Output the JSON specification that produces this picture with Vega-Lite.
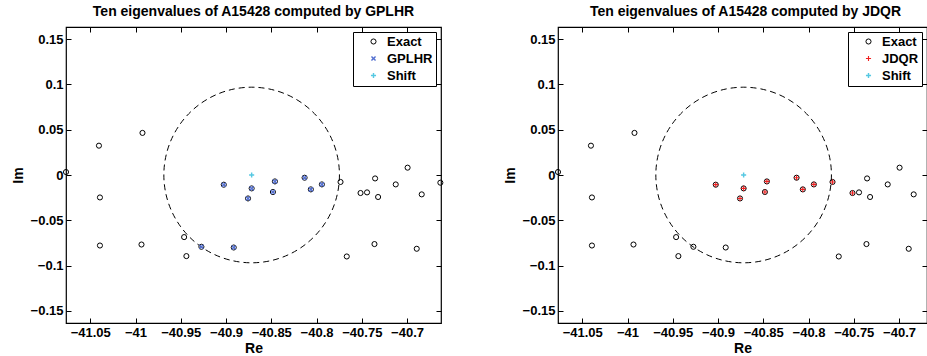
{
  "$schema": "https://vega.github.io/schema/vega-lite/v6.json",
  "background": "white",
  "padding": {"left": 10, "top": 3, "right": 0, "bottom": 0},
  "spacing": 117,
  "bounds": "flush",
  "config": {
    "font": "Liberation Sans",
    "view": {"stroke": "#000", "strokeWidth": 1.2},
    "axis": {
      "grid": false, "domain": false, "tickColor": "#000", "tickSize": -5, "tickWidth": 1,
      "labelFont": "Liberation Sans", "labelFontSize": 13, "labelFontWeight": "bold", "labelColor": "#000",
      "labelOverlap": false, "labelFlush": false,
      "titleFont": "Liberation Sans", "titleFontSize": 14, "titleFontWeight": "bold", "titleColor": "#000"
    },
    "title": {"font": "Liberation Sans", "fontSize": 14, "fontWeight": "bold", "color": "#000", "baseline": "alphabetic", "offset": 8},
    "legend": {
      "orient": "top-right", "offset": 5, "strokeColor": "#000", "fillColor": "#fff", "padding": 3,
      "labelFont": "Liberation Sans", "labelFontSize": 13, "labelFontWeight": "bold", "labelColor": "#000", "labelAlign": "left",
      "rowPadding": 3, "symbolSize": 26, "symbolOffset": 11, "labelOffset": 7, "symbolStrokeWidth": 1
    }
  },
  "datasets": {
    "exact": [
      {"re": -41.0404, "im": 0.0324, "series": "Exact"},
      {"re": -40.9923, "im": 0.0465, "series": "Exact"},
      {"re": -41.0768, "im": 0.0033, "series": "Exact"},
      {"re": -41.0393, "im": -0.0248, "series": "Exact"},
      {"re": -41.0393, "im": -0.0779, "series": "Exact"},
      {"re": -40.9934, "im": -0.0768, "series": "Exact"},
      {"re": -40.9463, "im": -0.0686, "series": "Exact"},
      {"re": -40.9438, "im": -0.0896, "series": "Exact"},
      {"re": -40.9025, "im": -0.0107, "series": "Exact"},
      {"re": -40.8717, "im": -0.0148, "series": "Exact"},
      {"re": -40.8757, "im": -0.0259, "series": "Exact"},
      {"re": -40.8460, "im": -0.0071, "series": "Exact"},
      {"re": -40.8482, "im": -0.0188, "series": "Exact"},
      {"re": -40.8132, "im": -0.0030, "series": "Exact"},
      {"re": -40.8063, "im": -0.0159, "series": "Exact"},
      {"re": -40.7941, "im": -0.0104, "series": "Exact"},
      {"re": -40.9272, "im": -0.0793, "series": "Exact"},
      {"re": -40.8915, "im": -0.0801, "series": "Exact"},
      {"re": -40.7735, "im": -0.0077, "series": "Exact"},
      {"re": -40.7353, "im": -0.0038, "series": "Exact"},
      {"re": -40.6994, "im": 0.0081, "series": "Exact"},
      {"re": -40.7125, "im": -0.0104, "series": "Exact"},
      {"re": -40.7514, "im": -0.0199, "series": "Exact"},
      {"re": -40.7442, "im": -0.0192, "series": "Exact"},
      {"re": -40.7320, "im": -0.0243, "series": "Exact"},
      {"re": -40.6838, "im": -0.0214, "series": "Exact"},
      {"re": -40.6632, "im": -0.0085, "series": "Exact"},
      {"re": -40.7360, "im": -0.0763, "series": "Exact"},
      {"re": -40.7666, "im": -0.0900, "series": "Exact"},
      {"re": -40.6893, "im": -0.0815, "series": "Exact"}
    ],
    "gplhr": [
      {"re": -40.9025, "im": -0.0107, "series": "GPLHR"},
      {"re": -40.8717, "im": -0.0148, "series": "GPLHR"},
      {"re": -40.8757, "im": -0.0259, "series": "GPLHR"},
      {"re": -40.8460, "im": -0.0071, "series": "GPLHR"},
      {"re": -40.8482, "im": -0.0188, "series": "GPLHR"},
      {"re": -40.8132, "im": -0.0030, "series": "GPLHR"},
      {"re": -40.8063, "im": -0.0159, "series": "GPLHR"},
      {"re": -40.7941, "im": -0.0104, "series": "GPLHR"},
      {"re": -40.9272, "im": -0.0793, "series": "GPLHR"},
      {"re": -40.8915, "im": -0.0801, "series": "GPLHR"}
    ],
    "jdqr": [
      {"re": -40.9025, "im": -0.0107, "series": "JDQR"},
      {"re": -40.8717, "im": -0.0148, "series": "JDQR"},
      {"re": -40.8757, "im": -0.0259, "series": "JDQR"},
      {"re": -40.8460, "im": -0.0071, "series": "JDQR"},
      {"re": -40.8482, "im": -0.0188, "series": "JDQR"},
      {"re": -40.8132, "im": -0.0030, "series": "JDQR"},
      {"re": -40.8063, "im": -0.0159, "series": "JDQR"},
      {"re": -40.7941, "im": -0.0104, "series": "JDQR"},
      {"re": -40.7735, "im": -0.0077, "series": "JDQR"},
      {"re": -40.7514, "im": -0.0199, "series": "JDQR"}
    ],
    "shift": [
      {"re": -40.8717, "im": 0.0, "series": "Shift"}
    ]
  },
  "resolve": {
    "scale": {"x": "independent", "y": "independent", "shape": "independent", "fill": "independent", "stroke": "independent"},
    "legend": {"shape": "independent", "fill": "independent", "stroke": "independent"}
  },
  "hconcat": [
    {
      "width": 375, "height": 296,
      "title": {"text": "Ten eigenvalues of A15428 computed by GPLHR"},
      "resolve": {"axis": {"x": "independent", "y": "independent"}},
      "layer": [
        {
          "data": {"name": "shift"},
          "mark": {"type": "point", "shape": "circle", "size": 30835, "filled": false, "stroke": "#000", "strokeWidth": 1, "strokeDash": [6, 4], "opacity": 1},
          "encoding": {
            "x": {"field": "re", "type": "quantitative", "scale": {"domain": [-41.0768, -40.6625], "nice": false, "zero": false},
                  "axis": {"orient": "bottom", "values": [-41.05, -41, -40.95, -40.9, -40.85, -40.8, -40.75, -40.7], "format": ".2~f", "title": "Re", "labelPadding": 8, "titlePadding": 2}},
            "y": {"field": "im", "type": "quantitative", "scale": {"domain": [-0.1635, 0.1635], "nice": false, "zero": false},
                  "axis": {"orient": "left", "values": [-0.15, -0.1, -0.05, 0, 0.05, 0.1, 0.15], "format": ".2~f", "title": "Im", "labelPadding": 8, "titlePadding": 5}}
          }
        },
        {
          "data": {"name": "exact"},
          "mark": {"type": "point", "filled": true, "size": 26, "strokeWidth": 1, "opacity": 1},
          "encoding": {
            "x": {"field": "re", "type": "quantitative", "axis": {"orient": "top", "labels": false, "title": null, "values": [-41.05, -41, -40.95, -40.9, -40.85, -40.8, -40.75, -40.7]}},
            "y": {"field": "im", "type": "quantitative", "axis": {"orient": "right", "labels": false, "title": null, "values": [-0.15, -0.1, -0.05, 0, 0.05, 0.1, 0.15]}},
            "shape": {"field": "series", "type": "nominal", "legend": {"title": null}, "scale": {"domain": ["Exact", "GPLHR", "Shift"], "range": ["circle", "M-1,-0.6L-0.6,-1L0,-0.4L0.6,-1L1,-0.6L0.4,0L1,0.6L0.6,1L0,0.4L-0.6,1L-1,0.6L-0.4,0Z", "M-1,-0.28L-0.28,-0.28L-0.28,-1L0.28,-1L0.28,-0.28L1,-0.28L1,0.28L0.28,0.28L0.28,1L-0.28,1L-0.28,0.28L-1,0.28Z"]}},
            "fill": {"field": "series", "type": "nominal", "legend": {"title": null}, "scale": {"domain": ["Exact", "GPLHR", "Shift"], "range": ["transparent", "#5470d0", "#55c8e2"]}},
            "stroke": {"field": "series", "type": "nominal", "legend": {"title": null}, "scale": {"domain": ["Exact", "GPLHR", "Shift"], "range": ["#000000", "transparent", "transparent"]}}
          }
        },
        {
          "data": {"name": "gplhr"},
          "mark": {"type": "point", "filled": true, "size": 26, "strokeWidth": 1, "opacity": 1},
          "encoding": {
            "x": {"field": "re", "type": "quantitative", "axis": null},
            "y": {"field": "im", "type": "quantitative", "axis": null},
            "shape": {"field": "series", "type": "nominal", "legend": {"title": null}},
            "fill": {"field": "series", "type": "nominal", "legend": {"title": null}},
            "stroke": {"field": "series", "type": "nominal", "legend": {"title": null}}
          }
        },
        {
          "data": {"name": "shift"},
          "mark": {"type": "point", "filled": true, "size": 26, "strokeWidth": 1, "opacity": 1},
          "encoding": {
            "x": {"field": "re", "type": "quantitative", "axis": null},
            "y": {"field": "im", "type": "quantitative", "axis": null},
            "shape": {"field": "series", "type": "nominal", "legend": {"title": null}},
            "fill": {"field": "series", "type": "nominal", "legend": {"title": null}},
            "stroke": {"field": "series", "type": "nominal", "legend": {"title": null}}
          }
        }
      ]
    },
    {
      "width": 369, "height": 296,
      "title": {"text": "Ten eigenvalues of A15428 computed by JDQR", "dx": 3},
      "resolve": {"axis": {"x": "independent", "y": "independent"}},
      "layer": [
        {
          "data": {"name": "shift"},
          "mark": {"type": "point", "shape": "circle", "size": 30835, "filled": false, "stroke": "#000", "strokeWidth": 1, "strokeDash": [6, 4], "opacity": 1},
          "encoding": {
            "x": {"field": "re", "type": "quantitative", "scale": {"domain": [-41.0768, -40.6691], "nice": false, "zero": false},
                  "axis": {"orient": "bottom", "values": [-41.05, -41, -40.95, -40.9, -40.85, -40.8, -40.75, -40.7], "format": ".2~f", "title": "Re", "labelPadding": 8, "titlePadding": 2}},
            "y": {"field": "im", "type": "quantitative", "scale": {"domain": [-0.1635, 0.1635], "nice": false, "zero": false},
                  "axis": {"orient": "left", "values": [-0.15, -0.1, -0.05, 0, 0.05, 0.1, 0.15], "format": ".2~f", "title": "Im", "labelPadding": 8, "titlePadding": 5}}
          }
        },
        {
          "data": {"name": "exact"},
          "mark": {"type": "point", "filled": true, "size": 26, "strokeWidth": 1, "opacity": 1},
          "encoding": {
            "x": {"field": "re", "type": "quantitative", "axis": {"orient": "top", "labels": false, "title": null, "values": [-41.05, -41, -40.95, -40.9, -40.85, -40.8, -40.75, -40.7]}},
            "y": {"field": "im", "type": "quantitative", "axis": {"orient": "right", "labels": false, "title": null, "values": [-0.15, -0.1, -0.05, 0, 0.05, 0.1, 0.15]}},
            "shape": {"field": "series", "type": "nominal", "legend": {"title": null}, "scale": {"domain": ["Exact", "JDQR", "Shift"], "range": ["circle", "M-1,-0.22L-0.22,-0.22L-0.22,-1L0.22,-1L0.22,-0.22L1,-0.22L1,0.22L0.22,0.22L0.22,1L-0.22,1L-0.22,0.22L-1,0.22Z", "M-1,-0.28L-0.28,-0.28L-0.28,-1L0.28,-1L0.28,-0.28L1,-0.28L1,0.28L0.28,0.28L0.28,1L-0.28,1L-0.28,0.28L-1,0.28Z"]}},
            "fill": {"field": "series", "type": "nominal", "legend": {"title": null}, "scale": {"domain": ["Exact", "JDQR", "Shift"], "range": ["transparent", "#f02020", "#55c8e2"]}},
            "stroke": {"field": "series", "type": "nominal", "legend": {"title": null}, "scale": {"domain": ["Exact", "JDQR", "Shift"], "range": ["#000000", "transparent", "transparent"]}}
          }
        },
        {
          "data": {"name": "jdqr"},
          "mark": {"type": "point", "filled": true, "size": 26, "strokeWidth": 1, "opacity": 1},
          "encoding": {
            "x": {"field": "re", "type": "quantitative", "axis": null},
            "y": {"field": "im", "type": "quantitative", "axis": null},
            "shape": {"field": "series", "type": "nominal", "legend": {"title": null}},
            "fill": {"field": "series", "type": "nominal", "legend": {"title": null}},
            "stroke": {"field": "series", "type": "nominal", "legend": {"title": null}}
          }
        },
        {
          "data": {"name": "shift"},
          "mark": {"type": "point", "filled": true, "size": 26, "strokeWidth": 1, "opacity": 1},
          "encoding": {
            "x": {"field": "re", "type": "quantitative", "axis": null},
            "y": {"field": "im", "type": "quantitative", "axis": null},
            "shape": {"field": "series", "type": "nominal", "legend": {"title": null}},
            "fill": {"field": "series", "type": "nominal", "legend": {"title": null}},
            "stroke": {"field": "series", "type": "nominal", "legend": {"title": null}}
          }
        }
      ]
    }
  ]
}
